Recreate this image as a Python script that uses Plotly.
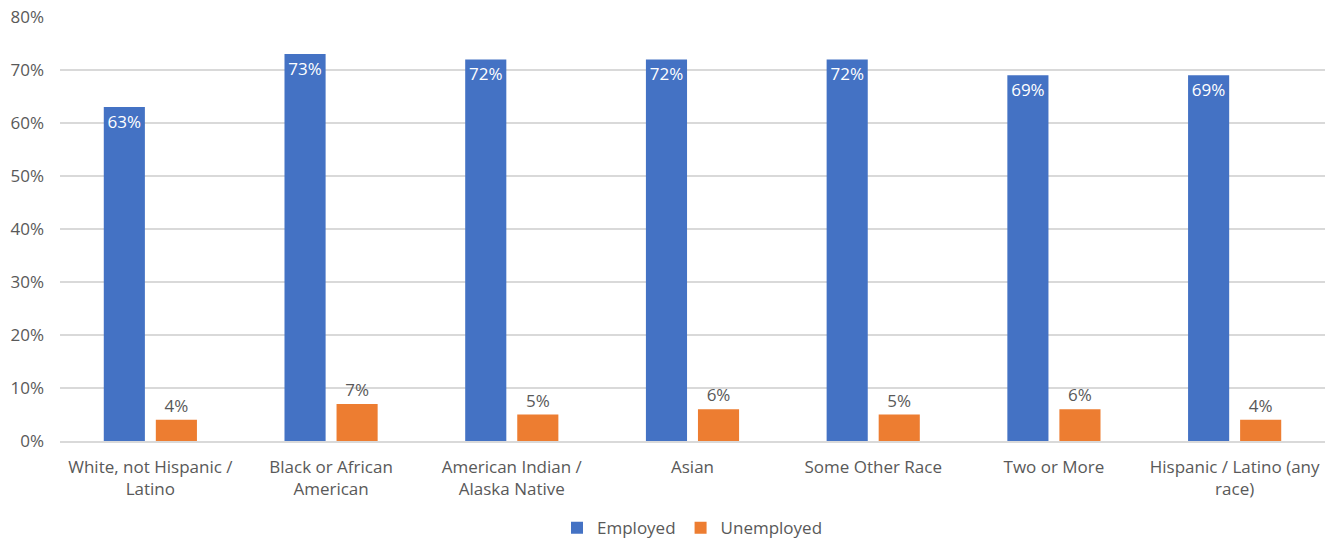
import plotly.graph_objects as go

categories = [
    "White, not Hispanic /<br>Latino",
    "Black or African<br>American",
    "American Indian /<br>Alaska Native",
    "Asian",
    "Some Other Race",
    "Two or More",
    "Hispanic / Latino (any<br>race)",
]
employed = [63, 73, 72, 72, 72, 69, 69]
unemployed = [4, 7, 5, 6, 5, 6, 4]

FONT = "Open Sans"
GREY = "#595959"
SIZE = 17

fig = go.Figure()
fig.add_trace(go.Bar(
    name="Employed", x=categories, y=employed,
    marker=dict(color="#4472C4", line=dict(width=0)),
    text=[f"{v}%" for v in employed], textposition="inside",
    insidetextanchor="end", textangle=0,
    textfont=dict(color="white", size=SIZE, family=FONT),
))
fig.add_trace(go.Bar(
    name="Unemployed", x=categories, y=unemployed,
    marker=dict(color="#ED7D31", line=dict(width=0)),
    text=[f"{v}%" for v in unemployed], textposition="outside",
    textangle=0, cliponaxis=False,
    textfont=dict(color=GREY, size=SIZE, family=FONT),
))

fig.update_layout(
    width=1326, height=539,
    margin=dict(l=60, r=1, t=17, b=98, autoexpand=False),
    paper_bgcolor="white", plot_bgcolor="white",
    barmode="group", bargap=0.424, bargroupgap=0.21,
    font=dict(family=FONT, size=SIZE, color=GREY),
    uniformtext=dict(mode=False),
    legend=dict(
        orientation="h", x=0.5, xanchor="center",
        yref="container", y=0.02, yanchor="middle",
        font=dict(size=SIZE, color=GREY), itemwidth=30,
        tracegroupgap=0,
    ),
)
fig.update_xaxes(
    showgrid=False, showline=True, linecolor="#d9d9d9", linewidth=1.5,
    ticks="", tickfont=dict(size=SIZE, color=GREY), tickangle=0,
    ticklabelstandoff=10,
)
fig.update_yaxes(
    range=[0, 80], dtick=10, ticksuffix="%",
    showgrid=True, gridcolor="#d9d9d9", gridwidth=1.5,
    zeroline=False, showline=False, ticks="",
    tickfont=dict(size=SIZE, color=GREY), ticklabelstandoff=15,
)

fig.write_html("out.html")
